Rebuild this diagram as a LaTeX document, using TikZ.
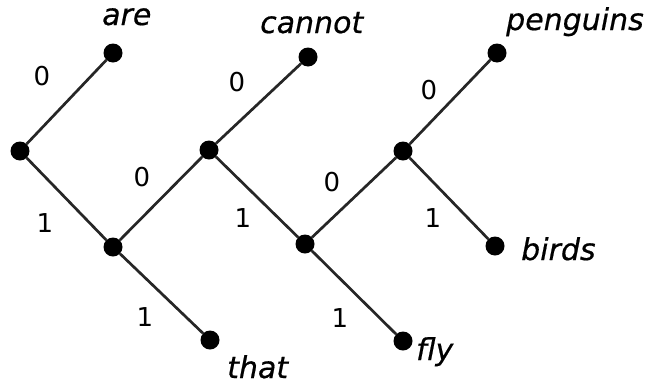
\documentclass[tikz,border=0pt]{standalone}
\usepackage{fontspec}
\setmainfont{DejaVu Sans}
\newfontfamily\wordfont[FakeBold=0.6]{DejaVu Sans}
\begin{document}
\begin{tikzpicture}[x=1pt,y=-1pt,
  dot/.style={circle,fill=black,inner sep=0pt,minimum size=19pt},
  edge/.style={draw=black!85,line width=2.7pt},
  bit/.style={font=\fontsize{26}{28}\selectfont,inner sep=0pt},
  word/.style={font=\wordfont\fontsize{30}{32}\selectfont\itshape,inner sep=0pt,anchor=base west}]
\useasboundingbox (0,0) rectangle (650,386);
\node[dot] (A) at (20,151) {};
\node[dot] (are) at (113,53) {};
\node[dot] (B) at (113,247) {};
\node[dot] (C) at (209,150) {};
\node[dot] (cannot) at (308,57) {};
\node[dot] (that) at (210,340) {};
\node[dot] (D) at (305,244) {};
\node[dot] (fly) at (403,341) {};
\node[dot] (E) at (403,151) {};
\node[dot] (penguins) at (497,53) {};
\node[dot] (birds) at (495,246) {};
\draw[edge] (A) -- (are);
\draw[edge] (A) -- (B);
\draw[edge] (B) -- (C);
\draw[edge] (B) -- (that);
\draw[edge] (C) -- (cannot);
\draw[edge] (C) -- (D);
\draw[edge] (D) -- (E);
\draw[edge] (D) -- (fly);
\draw[edge] (E) -- (penguins);
\draw[edge] (E) -- (birds);
\node[bit] (l1) at (42,76) {0};
\node[bit] (l2) at (45,223) {1};
\node[bit] (l3) at (142,177) {0};
\node[bit] (l4) at (145,317) {1};
\node[bit] (l5) at (237,82) {0};
\node[bit] (l6) at (243,218) {1};
\node[bit] (l7) at (332,182) {0};
\node[bit] (l8) at (340,318) {1};
\node[bit] (l9) at (429,90) {0};
\node[bit] (l10) at (433,218) {1};
\node[word] (tare) at (102,25) {are};
\node[word] (tcannot) at (260,33) {cannot};
\node[word] (tpenguins) at (506,30) {penguins};
\node[word] (tbirds) at (521,260) {birds};
\node[word] (tthat) at (227,378) {that};
\node[word] (tfly) at (416,360) {fly};
\end{tikzpicture}
\end{document}
